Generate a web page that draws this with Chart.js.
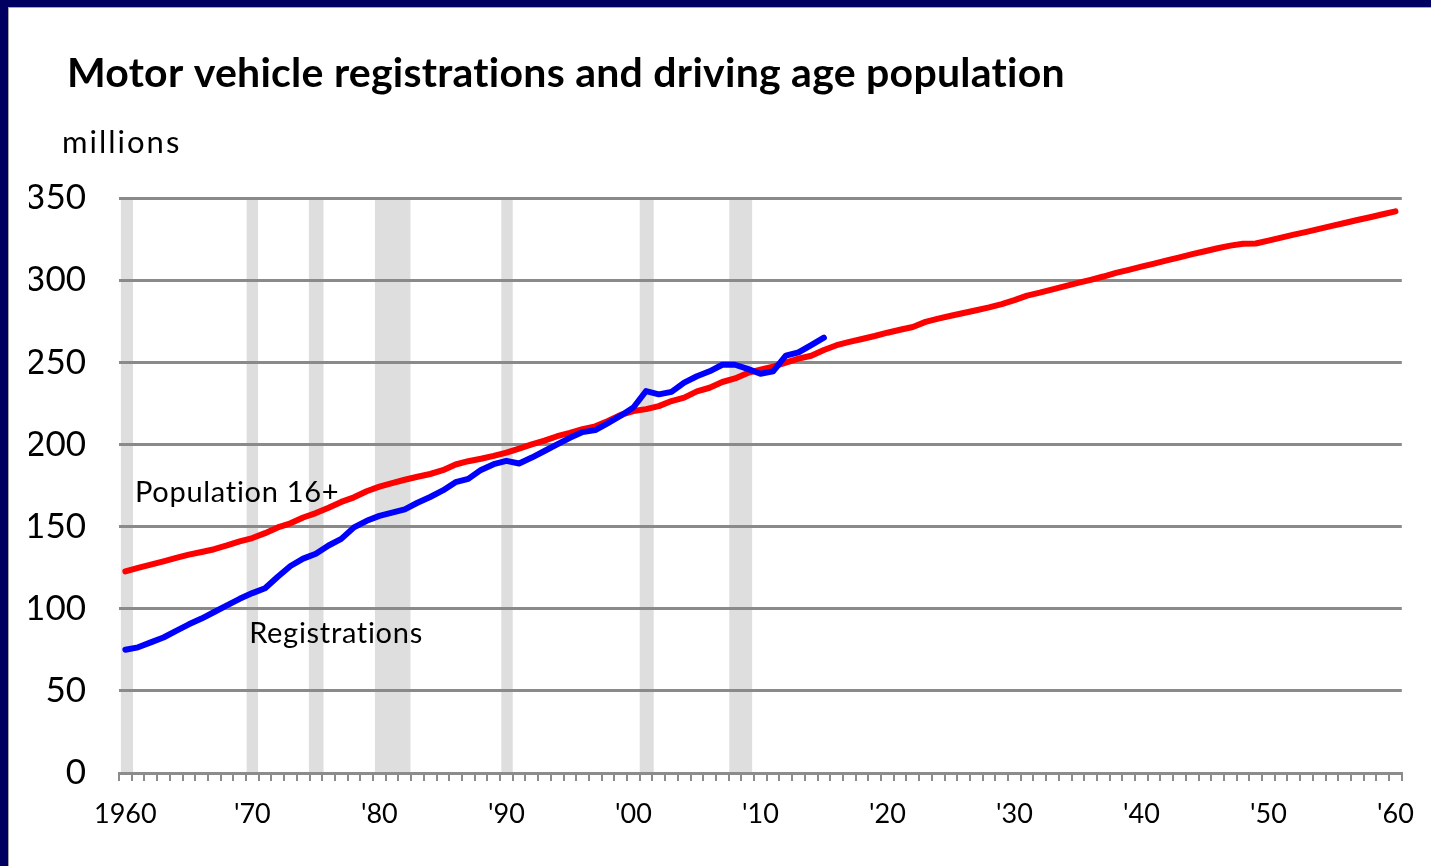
<!DOCTYPE html>
<html>
<head>
<meta charset="utf-8">
<title>Motor vehicle registrations and driving age population</title>
<script src="https://cdn.jsdelivr.net/npm/chart.js@4.4.1/dist/chart.umd.min.js"></script>
<style>
  html, body { margin: 0; padding: 0; background: #000060; overflow: hidden; }
  #panel {
    position: absolute; left: 8px; top: 7px;
    width: 1423px; height: 859px; background: #fff;
    border-left: 1px solid #a8a8a8; border-top: 1px solid #a8a8a8;
  }
  canvas { display: block; }
</style>
</head>
<body>
<div id="panel"><canvas id="chart" width="1422" height="858"></canvas></div>
<script>
// -----------------------------
//  DATA
// -----------------------------
const chartTitle = "Motor vehicle registrations and driving age population";
const unitLabel = "millions";

const years = [
    1960, 1961, 1962, 1963, 1964, 1965, 1966, 1967, 1968, 1969,
    1970, 1971, 1972, 1973, 1974, 1975, 1976, 1977, 1978, 1979,
    1980, 1981, 1982, 1983, 1984, 1985, 1986, 1987, 1988, 1989,
    1990, 1991, 1992, 1993, 1994, 1995, 1996, 1997, 1998, 1999,
    2000, 2001, 2002, 2003, 2004, 2005, 2006, 2007, 2008, 2009,
    2010, 2011, 2012, 2013, 2014, 2015, 2016, 2017, 2018, 2019,
    2020, 2021, 2022, 2023, 2024, 2025, 2026, 2027, 2028, 2029,
    2030, 2031, 2032, 2033, 2034, 2035, 2036, 2037, 2038, 2039,
    2040, 2041, 2042, 2043, 2044, 2045, 2046, 2047, 2048, 2049,
    2050, 2051, 2052, 2053, 2054, 2055, 2056, 2057, 2058, 2059,
    2060
];

// driving age population (16+), millions, incl. projection to 2060
const population16 = [
    122.7, 124.8, 126.8, 128.8, 130.9, 132.9, 134.5, 136.2, 138.5, 141.0,
    143.0, 146.0, 149.5, 152.0, 155.5, 158.2, 161.4, 165.0, 167.8, 171.5,
    174.3, 176.5, 178.5, 180.3, 182.0, 184.3, 187.8, 189.8, 191.3, 193.0,
    195.0, 197.5, 200.0, 202.3, 205.0, 207.0, 209.3, 211.0, 214.3, 218.0,
    220.3, 221.5, 223.3, 226.4, 228.5, 232.3, 234.5, 238.0, 240.2, 243.5,
    245.5, 247.4, 249.8, 252.2, 254.0, 257.5, 260.4, 262.4, 264.2, 266.0,
    268.0, 269.8, 271.5, 274.6, 276.6, 278.3, 280.0, 281.7, 283.4, 285.4,
    287.8, 290.6, 292.4, 294.4, 296.4, 298.3, 300.2, 302.2, 304.4, 306.3,
    308.2, 310.1, 312.0, 313.9, 315.8, 317.6, 319.4, 321.0, 322.2, 322.3,
    324.1, 325.9, 327.7, 329.4, 331.2, 333.0, 334.8, 336.6, 338.3, 340.1,
    341.9
];

// motor vehicle registrations, millions (1960-2015)
const registrations = [
    75.0, 76.5, 79.5, 82.5, 86.5, 90.5, 94.0, 98.0, 102.0, 106.0,
    109.5, 112.5, 119.5, 126.0, 130.5, 133.5, 138.5, 142.5, 149.5, 153.5,
    156.5, 158.5, 160.5, 164.5, 168.0, 172.0, 177.0, 179.0, 184.5, 188.0,
    190.0, 188.4, 192.0, 196.0, 200.0, 204.0, 207.5, 208.7, 213.0, 217.5,
    222.5, 232.5, 230.5, 232.0, 237.6, 241.5, 244.5, 248.5, 248.5, 246.0,
    243.0, 244.5, 254.0, 256.0, 260.5, 265.0
];

const decadeYears = [1960, 1970, 1980, 1990, 2000, 2010, 2020, 2030, 2040, 2050, 2060];
const decadeLabels = ["1960", "'70", "'80", "'90", "'00", "'10", "'20", "'30", "'40", "'50", "'60"];

// recession shading, as placed on the chart (decimal years)
const recessionStart = [1960.15, 1970.05, 1974.95, 1980.15, 1990.10, 2001.00, 2008.05];
const recessionEnd   = [1961.10, 1970.95, 1976.10, 1982.95, 1991.00, 2002.10, 2009.85];

// line labels written on the plot
const noteTexts  = ["Population 16+", "Registrations"];
const noteYears  = [1960.76, 1969.75];
const noteValues = [165.0, 79.3];

const FONT = "Lato, 'Open Sans', sans-serif";

// -----------------------------
//  PLUGINS
// -----------------------------
// year (decimal) -> index on the category axis
function yearToIndex(year) {
    return year - years[0] - 0.5;
}

const recessionBands = {
    id: "recessionBands",
    beforeDraw(chart) {
        const { ctx, chartArea, scales: { x } } = chart;
        ctx.save();
        ctx.fillStyle = "#dedede";
        recessionStart.forEach((start, i) => {
            const x0 = x.getPixelForValue(yearToIndex(start));
            const x1 = x.getPixelForValue(yearToIndex(recessionEnd[i]));
            ctx.fillRect(x0, chartArea.top, x1 - x0, chartArea.bottom - chartArea.top);
        });
        ctx.restore();
    }
};

const chartTexts = {
    id: "chartTexts",
    afterDatasetsDraw(chart) {
        const { ctx, scales: { x, y } } = chart;
        ctx.save();
        ctx.fillStyle = "#000";
        ctx.textAlign = "left";
        ctx.textBaseline = "alphabetic";

        ctx.font = `bold 41px ${FONT}`;
        ctx.letterSpacing = "0.25px";
        ctx.fillText(chartTitle, 58, 79);

        ctx.font = `31px ${FONT}`;
        ctx.letterSpacing = "2px";
        ctx.fillText(unitLabel, 53, 145);

        ctx.font = `29px ${FONT}`;
        ctx.letterSpacing = "0.7px";
        noteTexts.forEach((text, i) => {
            const px = x.getPixelForValue(noteYears[i] - years[0]);
            const py = y.getPixelForValue(noteValues[i]);
            ctx.fillText(text, px, py);
        });
        ctx.restore();
    }
};

// -----------------------------
//  CHART
// -----------------------------
const ctx = document.getElementById("chart").getContext("2d");

new Chart(ctx, {
    type: "line",
    data: {
        labels: years,
        datasets: [
            {
                label: "Registrations",
                data: registrations,
                borderColor: "#0000ff",
                borderWidth: 6,
            },
            {
                label: "Population 16+",
                data: population16,
                borderColor: "#ff0000",
                borderWidth: 6,
            }
        ]
    },
    options: {
        responsive: false,
        animation: false,
        layout: { padding: { top: 190, left: 20, right: 28, bottom: 0 } },
        plugins: {
            legend: { display: false },
            tooltip: { enabled: false },
            title: { display: false }
        },
        elements: {
            point: { radius: 0 },
            line: { tension: 0, borderCapStyle: "round", borderJoinStyle: "round" }
        },
        scales: {
            x: {
                type: "category",
                offset: true,
                grid: {
                    display: true,
                    offset: true,
                    drawOnChartArea: false,
                    drawTicks: true,
                    tickLength: 8,
                    color: "#8c8c8c",
                    lineWidth: 2
                },
                border: { display: true, color: "#8c8c8c", width: 3 },
                ticks: {
                    autoSkip: false,
                    maxRotation: 0,
                    padding: 17,
                    color: "#000",
                    font: { family: FONT, size: 27 },
                    callback: (val, i) => {
                        const k = decadeYears.indexOf(years[i]);
                        return k >= 0 ? decadeLabels[k] : "";
                    }
                },
                afterFit(scale) { scale.height = 93; }
            },
            y: {
                min: 0,
                max: 350,
                ticks: {
                    stepSize: 50,
                    padding: 33,
                    color: "#000",
                    font: { family: FONT, size: 35 }
                },
                grid: { color: "#8a8a8a", lineWidth: 3, drawTicks: false },
                border: { display: false },
                afterFit(scale) { scale.width = 90; }
            }
        }
    },
    plugins: [recessionBands, chartTexts]
});
</script>
</body>
</html>
